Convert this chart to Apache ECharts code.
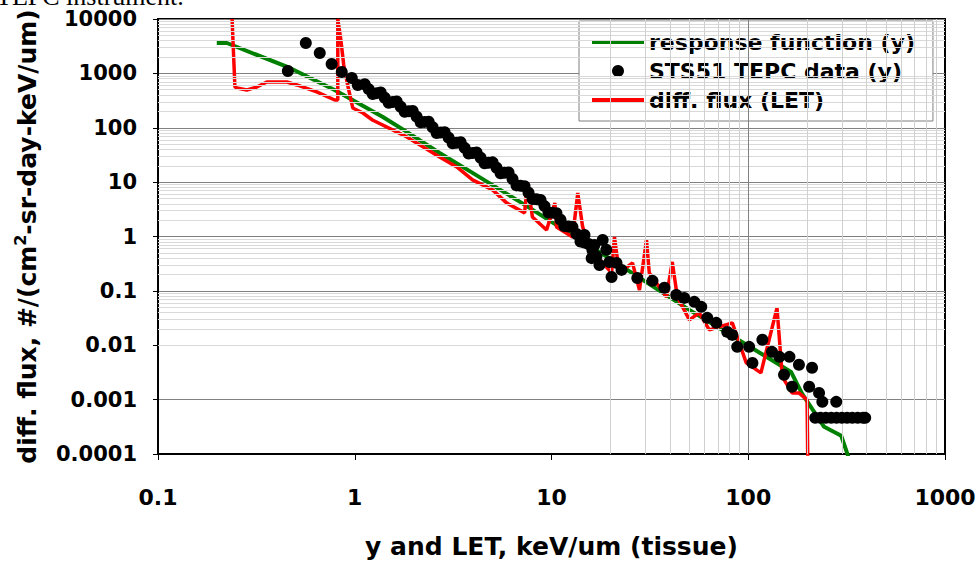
<!DOCTYPE html>
<html>
<head>
<meta charset="utf-8">
<script src="https://cdn.jsdelivr.net/npm/echarts@6/dist/echarts.min.js"></script>
<style>
html,body{margin:0;padding:0;background:#fff;}
#c{width:979px;height:563px;}
</style>
</head>
<body>
<div id="c"></div>
<script>
// ---- tick labels ----
const xTickLabels = ['0.1', '1', '10', '100', '1000'];
const yTickLabels = ['0.0001', '0.001', '0.01', '0.1', '1', '10', '100', '1000', '10000'];

// ---- series: response function (y) ----
const responseX = [0.199, 0.224, 0.468, 0.79, 1.39, 1.84, 2.70, 3.97, 7.05, 17.5, 50.2, 165, 188, 243, 297, 326];
const responseY = [3620, 3620, 1257, 495, 158, 84, 34.4, 14.8, 4.15, 0.52, 0.0448, 0.00324, 0.00128, 0.000316, 0.000216, 0.00008];

// ---- series: diff. flux (LET) ----
const fluxX = [0.238, 0.246, 0.252, 0.283, 0.318, 0.357, 0.452, 0.508, 0.641, 0.791, 0.82, 0.82, 0.85, 0.879, 0.92, 0.977,
  1.10, 1.23, 1.84, 2.70, 3.30, 3.97, 5.02, 5.91, 7.3, 7.55, 8.0, 9.44, 10.4, 10.6, 12.8, 13.6, 14.4, 15.6, 18.6, 20.2,
  20.9, 22.1, 25.8, 28.0, 30.4, 31.4, 38.4, 41.1, 43.6, 50.2, 56.4, 63.4, 83, 97.7, 116, 140, 149, 167, 181, 199, 201];
const fluxY = [10000, 562, 540, 495, 562, 695, 695, 612, 455, 324, 324, 10000, 4110, 1425, 612, 231,
  187, 139, 67.8, 29, 19, 11, 7.2, 4.15, 2.72, 9.7, 2.29, 1.32, 4.15, 1.5, 0.98, 6.3, 1.5, 0.64, 0.30, 0.214,
  0.98, 0.214, 0.327, 0.104, 0.865, 0.214, 0.0776, 0.341, 0.0776, 0.0293, 0.0394, 0.0192, 0.0258, 0.00474, 0.00311, 0.0486, 0.00262, 0.00133, 0.00133, 0.00099, 0.00005];

// ---- series: STS51 TEPC data (y) ----
const tepcX = [0.457, 0.564, 0.664, 0.763, 0.859, 0.966, 1.036,
  1.124, 1.234, 1.355, 1.488, 1.634, 1.794, 1.970, 2.163, 2.375, 2.608, 2.863, 3.144, 3.452, 3.791, 4.162, 4.570,
  5.018, 5.510, 6.050, 6.643, 7.294, 8.010, 8.796, 9.656, 10.60, 11.64, 12.78, 14.04, 15.41, 16.92,
  1.178, 1.293, 1.420, 1.559, 1.712, 1.880, 2.064, 2.266, 2.488, 2.733, 3.001, 3.295, 3.618, 3.972, 4.362, 4.789,
  5.258, 5.774, 6.339, 6.961, 7.643, 8.393, 9.215, 10.12, 11.11, 12.20, 13.40, 14.71, 16.15,
  14.71, 16.52, 17.53, 19.0, 19.7, 18.2, 16.0, 20.2, 21.4,
  22.7, 27.3, 32.6, 37.5, 43.1, 47.3, 53.2, 57.7, 61.9, 68.8, 78.2, 83, 87.9, 101, 105, 118, 132, 144, 162, 181, 211,
  152, 167, 204, 229, 238, 280,
  219, 233, 248, 264, 281, 299, 318, 338, 360, 383, 393];
const tepcY = [1107, 3620, 2371, 1489, 1062, 822, 612,
  631, 418, 446, 287, 305, 196, 204, 126, 129, 80, 83, 52, 54, 33.7, 35.2, 22.2,
  23.1, 14.6, 15.0, 8.7, 8.4, 4.9, 4.7, 2.76, 2.67, 1.55, 1.50, 0.81, 0.73, 0.43,
  513, 433, 357, 296, 244, 201, 160, 128, 102, 81.6, 65.8, 53, 42.7, 34.4, 28.0, 22.6,
  18.4, 14.9, 11.4, 8.55, 6.41, 4.83, 3.62, 2.72, 2.04, 1.53, 1.11, 0.773, 0.557,
  1.07, 0.70, 0.30, 0.57, 0.34, 0.86, 0.40, 0.18, 0.327,
  0.243, 0.173, 0.153, 0.114, 0.0844, 0.0743, 0.0628, 0.0508, 0.0319, 0.0258, 0.0176, 0.0155, 0.00935, 0.00935, 0.00474, 0.0126, 0.00757, 0.00612, 0.00612, 0.00437, 0.00385,
  0.00286, 0.00172, 0.00172, 0.00133, 0.00091, 0.00091,
  0.000462, 0.000462, 0.000462, 0.000462, 0.000462, 0.000462, 0.000462, 0.000462, 0.000462, 0.000462, 0.000462];

// ---- gridline values ----
const xMinorGrid = [20, 30, 40, 50, 60, 70, 80, 90, 200, 300, 400, 500, 600, 700, 800, 900];
const xMajorGrid = [100];
const yMinorMultipliers = [2, 3, 4, 5, 6, 7, 8, 9];
const yDecades = [0.0001, 0.001, 0.01, 0.1, 1, 10, 100, 1000];

const FONT = 'DejaVu Sans';
const pair = (xs, ys) => xs.map((x, i) => [x, ys[i]]);
// legend line icon: a 4px bar centred in a 12px-high box
const LINE_ICON = 'path://M0,0L1,0L1,0.01L0,0.01Z M0,4L52,4L52,8L0,8Z M0,11.99L1,11.99L1,12L0,12Z';

const gridLines = [];
yDecades.forEach(d => yMinorMultipliers.forEach(m => {
  gridLines.push({ yAxis: +(m * d).toPrecision(6), lineStyle: { color: '#d9d9d9', width: 1, type: 'solid' } });
}));
xMinorGrid.forEach(v => gridLines.push({ xAxis: v, lineStyle: { color: '#d0d0d0', width: 1, type: 'solid' } }));
xMajorGrid.forEach(v => gridLines.push({ xAxis: v, lineStyle: { color: '#808080', width: 1, type: 'solid' } }));

const chart = echarts.init(document.getElementById('c'), null, { renderer: 'svg', width: 979, height: 563 });
chart.setOption({
  animation: false,
  backgroundColor: '#ffffff',
  grid: {
    left: 158, right: 34, top: 19, bottom: 109,
    containLabel: false, outerBoundsMode: 'none',
    show: true, borderColor: '#000', borderWidth: 2, backgroundColor: 'transparent'
  },
  graphic: [{
    type: 'text', left: -4, top: -17,
    style: { text: 'TEPC instrument.', font: '26px "Liberation Serif"', fill: '#000' }
  }],
  legend: {
    data: [
      { name: 'response function (y)', icon: LINE_ICON },
      { name: 'STS51 TEPC data (y)', icon: 'circle' },
      { name: 'diff. flux (LET)', icon: LINE_ICON }
    ],
    orient: 'vertical', left: 579, top: 21,
    itemWidth: 52, itemHeight: 12, itemGap: 5,
    padding: [9, 18, 9, 13],
    backgroundColor: '#fff', borderColor: '#7f7f7f', borderWidth: 1,
    selectedMode: false,
    textStyle: { fontFamily: FONT, fontWeight: 'bold', fontSize: 22, color: '#000', lineHeight: 24 }
  },
  xAxis: {
    type: 'log', logBase: 10, min: 0.1, max: 1000,
    axisLine: { show: true, onZero: false, lineStyle: { color: '#000', width: 2 } },
    axisTick: { show: true, length: 6, lineStyle: { color: '#000', width: 1 } },
    splitLine: { show: false },
    axisLabel: {
      formatter: v => xTickLabels[Math.round(Math.log10(v)) + 1] || '',
      fontFamily: FONT, fontWeight: 'bold', fontSize: 22, color: '#000', margin: 32
    },
    name: 'y and LET, keV/um (tissue)', nameLocation: 'middle', nameGap: 80,
    nameTextStyle: { fontFamily: FONT, fontWeight: 'bold', fontSize: 25, color: '#000' }
  },
  yAxis: {
    type: 'log', logBase: 10, min: 0.0001, max: 10000,
    axisLine: { show: true, onZero: false, lineStyle: { color: '#000', width: 2 } },
    axisTick: { show: true, length: 5, lineStyle: { color: '#000', width: 1 } },
    splitLine: { show: true, lineStyle: { color: '#808080', width: 1 } },
    axisLabel: {
      formatter: v => yTickLabels[Math.round(Math.log10(v)) + 4] || '',
      fontFamily: FONT, fontWeight: 'bold', fontSize: 21, color: '#000', margin: 21
    },
    name: '{a|diff. flux, #/(cm}{s|2}{a|-sr-day-keV/um)}',
    nameLocation: 'middle', nameRotate: 90, nameGap: 116,
    nameTextStyle: {
      rich: {
        a: { fontFamily: FONT, fontWeight: 'bold', fontSize: 25, color: '#000', lineHeight: 30 },
        s: { fontFamily: FONT, fontWeight: 'bold', fontSize: 16, color: '#000', lineHeight: 16, verticalAlign: 'top' }
      }
    }
  },
  series: [
    {
      name: 'gridlines', type: 'line', data: [[1, 1]], symbol: 'none', silent: true, z: 1,
      lineStyle: { opacity: 0 },
      markLine: { silent: true, symbol: ['none', 'none'], animation: false, label: { show: false }, emphasis: { disabled: true }, data: gridLines }
    },
    {
      name: 'response function (y)', type: 'line', data: pair(responseX, responseY), symbol: 'none', z: 3,
      lineStyle: { color: '#008000', width: 4 }, itemStyle: { color: '#008000' }
    },
    {
      name: 'diff. flux (LET)', type: 'line', data: pair(fluxX, fluxY), symbol: 'none', z: 4,
      lineStyle: { color: '#ff0000', width: 3.5 }, itemStyle: { color: '#ff0000' }
    },
    {
      name: 'STS51 TEPC data (y)', type: 'scatter', data: pair(tepcX, tepcY), symbol: 'circle', symbolSize: 12, z: 5,
      itemStyle: { color: '#000', opacity: 1 }
    }
  ]
});
</script>
</body>
</html>
